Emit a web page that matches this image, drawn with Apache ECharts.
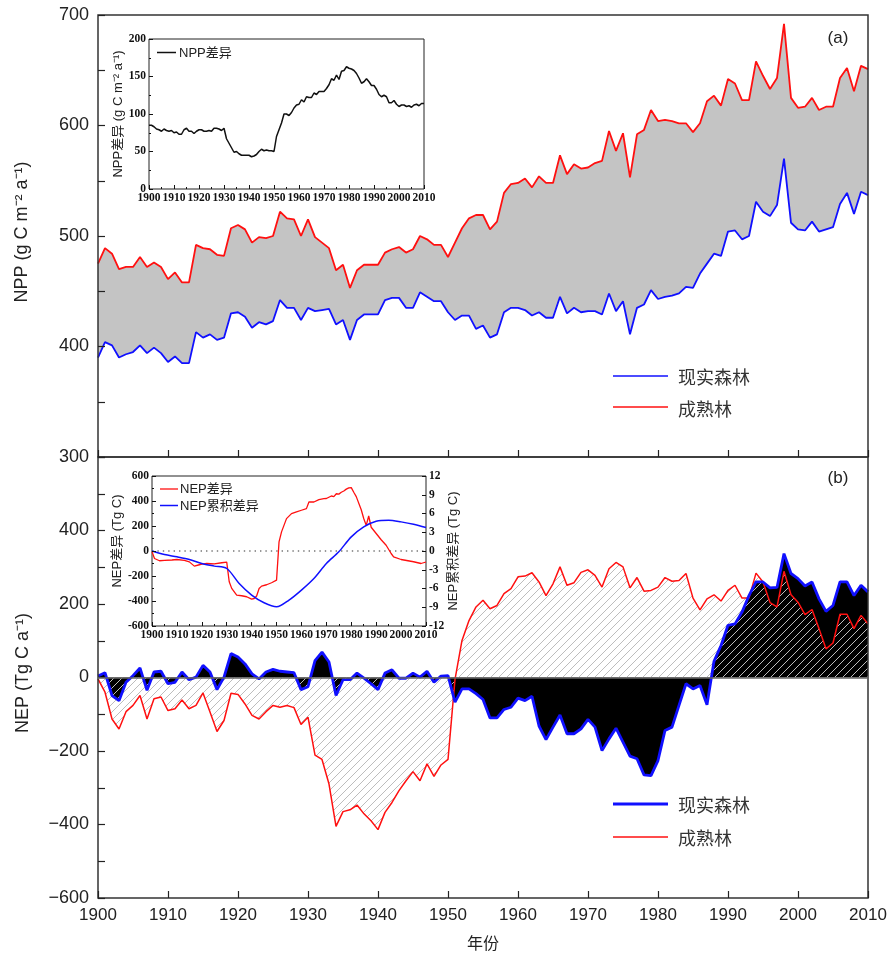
<!DOCTYPE html>
<html><head><meta charset="utf-8">
<script src="https://cdn.jsdelivr.net/npm/echarts@6/dist/echarts.min.js"></script>
<style>html,body{margin:0;padding:0;background:#fff}#c{width:892px;height:956px}</style>
</head><body><div id="c"></div>
<script>
// ---------- DATA ----------
const years = Array.from({length: 111}, (_, i) => 1900 + i);

// (a) NPP (g C m-2 a-1)
const nppReal = [390,404,401,390,393,395,401,394,399,394,386,391,385,385,413,408,411,406,408,430,
431,427,417,422,420,423,442,435,435,424,435,432,433,434,420,424,406,424,429,429,
429,442,444,444,435,435,449,445,441,441,431,424,428,428,416,419,408,411,431,435,
435,433,428,431,426,426,445,430,435,431,432,432,429,448,432,441,411,435,438,451,
443,445,446,448,454,453,466,475,484,482,504,505,497,500,531,522,518,528,570,512,
506,505,513,504,506,508,529,539,520,540,537];
const nppMature = [475,489,484,470,472,472,481,472,476,472,461,467,458,458,492,489,488,483,482,507,
510,506,494,499,498,500,522,516,515,500,515,499,494,489,469,474,453,469,474,474,
474,485,488,490,485,488,500,497,492,492,481,494,507,516,519,519,506,513,539,547,
548,552,544,554,548,548,573,556,565,561,562,566,568,595,577,593,553,592,596,614,
604,605,604,602,602,594,602,622,627,618,642,638,623,623,658,645,633,643,692,625,
616,617,625,614,617,617,643,652,631,654,651];
// inset (a) NPP差异
const nppDiff = [85,85,83,80,79,77,80,78,77,78,75,76,73,73,79,81,77,77,74,77,
79,79,77,77,78,77,81,81,80,78,81,67,61,55,49,50,47,45,45,45,
45,43,44,46,50,53,51,52,51,51,50,70,79,88,100,100,98,102,108,112,
113,119,116,123,122,122,128,126,130,130,130,134,139,147,145,152,146,157,158,163,
161,160,158,154,148,141,143,147,143,138,138,133,126,123,125,123,115,115,118,113,
110,112,112,110,111,109,112,113,111,114,114];

// (b) NEP (Tg C a-1)
const nepReal = [4,13,-49,-63,-13,5,26,-35,15,17,-17,-13,15,-6,1,33,15,-33,1,65,
56,37,10,-4,15,22,17,15,13,-33,-25,46,69,42,-49,-6,-6,12,-2,-17,
-33,12,21,-2,-2,12,1,17,-13,4,5,-67,-31,-31,-44,-60,-110,-110,-87,-81,
-56,-63,-51,-132,-169,-135,-102,-153,-153,-140,-114,-135,-199,-167,-138,-176,-214,-221,-265,-267,
-226,-144,-135,-76,-17,-31,-22,-74,44,87,142,146,178,223,260,260,244,245,337,283,
269,249,260,214,180,196,260,260,223,251,233];
const nepMature = [-4,-40,-113,-140,-93,-76,-49,-113,-58,-53,-90,-85,-61,-85,-76,-42,-94,-147,-117,-43,
-46,-72,-103,-113,-93,-76,-81,-76,-82,-128,-108,-211,-223,-290,-405,-365,-360,-347,-371,-390,
-414,-367,-340,-308,-281,-256,-281,-235,-269,-238,-223,-5,101,155,192,210,187,196,228,242,
274,276,285,260,223,255,301,251,258,286,293,278,246,296,313,301,244,272,235,237,
246,272,262,264,283,216,184,214,225,208,237,251,216,216,284,260,204,192,289,225,
205,171,185,133,78,94,172,172,133,169,146];

// inset (b) NEP差异 (Tg C), read at these years
const nepDiffYears = [1900,1901,1903,1905,1908,1910,1913,1915,1917,1919,1920,1922,1925,1928,1930,1931,1932,1934,1936,1938,1940,1941,1942,1943,1944,1946,1948,1950,1951,1952,1954,1956,1958,1960,1962,1963,1965,1967,1969,1970,1972,1973,1974,1975,1976,1977,1978,1979,1980,1981,1982,1984,1985,1986,1987,1988,1990,1992,1994,1996,1997,2000,2005,2008,2010];
const nepDiffVals  = [-5,-60,-78,-75,-72,-68,-75,-87,-121,-110,-105,-100,-103,-94,-89,-246,-299,-353,-358,-366,-385,-380,-360,-300,-281,-270,-254,-233,73,153,259,299,313,326,339,392,392,411,419,420,440,435,458,455,470,480,495,505,507,470,435,330,260,205,280,190,140,90,46,-20,-47,-68,-86,-100,-88];
// inset (b) NEP累积差异 (right axis)
const cumYears = [1900,1905,1910,1915,1920,1925,1930,1935,1940,1945,1950,1955,1960,1965,1970,1975,1980,1985,1990,1995,2000,2005,2010];
const cumVals  = [0,-0.56,-0.93,-1.36,-2.0,-2.42,-2.8,-5.2,-7.05,-8.28,-8.92,-7.85,-6.25,-4.4,-2.0,-0.13,2.26,3.86,4.76,4.92,4.66,4.28,3.75];
// inset (b) zero reference line
const zeroRef = [[1900, 0], [2010, 0]];

// ---------- CHART ----------
const pairs = arr => arr.map((v, i) => [years[i], v]);
const zip = (xs, ys) => xs.map((x, i) => [x, ys[i]]);
const SANS = "'Liberation Sans','Noto Sans CJK SC',sans-serif";
const CJK = "'Noto Sans CJK SC','Liberation Sans',sans-serif";
const SERIF = "'Liberation Serif','DejaVu Serif',serif";

function hatch(color, size) {
  const c = document.createElement('canvas');
  c.width = size; c.height = size;
  const g = c.getContext('2d');
  g.strokeStyle = color; g.lineWidth = 1;
  g.beginPath();
  g.moveTo(0, size); g.lineTo(size, 0);
  g.moveTo(-1, 1); g.lineTo(1, -1);
  g.moveTo(size - 1, size + 1); g.lineTo(size + 1, size - 1);
  g.stroke();
  return c;
}
const hatchCanvas = hatch('#bdbdbd', 8);

const chart = echarts.init(document.getElementById('c'), null, {renderer: 'canvas'});

const mainX = (gi, showLabel) => ({
  type: 'value', gridIndex: gi, min: 1900, max: 2010, interval: 10, z: 3,
  axisLine: {show: false, onZero: false},
  axisTick: {show: true, inside: true, length: 7, lineStyle: {color: '#222', width: 1.2}},
  axisLabel: {show: showLabel, fontSize: 17, color: '#222', fontFamily: SANS, margin: 9, formatter: v => String(v)},
  splitLine: {show: false}
});
const insetX = (gi) => ({
  type: 'value', gridIndex: gi, min: 1900, max: 2010, interval: 10, z: 12,
  axisLine: {show: false, onZero: false},
  axisTick: {show: true, inside: true, length: 4, lineStyle: {color: '#111'}},
  minorTick: {show: true, splitNumber: 2, length: 2, lineStyle: {color: '#111'}},
  axisLabel: {fontSize: 11.5, fontWeight: 'bold', color: '#111', fontFamily: SERIF, margin: 3, formatter: v => String(v)},
  splitLine: {show: false}
});

const option = {
  animation: false,
  backgroundColor: '#fff',
  grid: [
    {left: 98, top: 15, width: 770, height: 442, show: true, backgroundColor: 'transparent', borderColor: '#333', borderWidth: 1.5, z: 3},
    {left: 98, top: 457, width: 770, height: 441, show: true, backgroundColor: 'transparent', borderColor: '#333', borderWidth: 1.5, z: 3},
    {left: 149, top: 39, width: 275, height: 150, show: true, backgroundColor: '#fff', borderColor: '#222', borderWidth: 1, z: 10},
    {left: 152, top: 476, width: 274, height: 150, show: true, backgroundColor: '#fff', borderColor: '#222', borderWidth: 1, z: 10}
  ],
  xAxis: [mainX(0, false), mainX(1, true), insetX(2), insetX(3)],
  yAxis: [
    {type: 'value', gridIndex: 0, min: 300, max: 700, interval: 50, z: 3,
     axisLine: {show: false, onZero: false}, splitLine: {show: false},
     axisTick: {show: true, inside: true, length: 7, lineStyle: {color: '#222', width: 1.2}},
     axisLabel: {fontSize: 18, color: '#222', fontFamily: SANS, margin: 9, formatter: v => (v % 100 === 0 ? String(v) : '')}},
    {type: 'value', gridIndex: 1, min: -600, max: 600, interval: 100, z: 3,
     axisLine: {show: false, onZero: false}, splitLine: {show: false},
     axisTick: {show: true, inside: true, length: 7, lineStyle: {color: '#222', width: 1.2}},
     axisLabel: {fontSize: 18, color: '#222', fontFamily: SANS, margin: 9,
       formatter: v => (v % 200 === 0 && v !== 600 ? String(v).replace('-', '\u2212') : '')}},
    {type: 'value', gridIndex: 2, min: 0, max: 200, interval: 50, z: 12,
     axisLine: {show: false, onZero: false}, splitLine: {show: false},
     axisTick: {show: true, inside: true, length: 4, lineStyle: {color: '#111'}},
     minorTick: {show: true, splitNumber: 2, length: 2, lineStyle: {color: '#111'}},
     axisLabel: {fontSize: 11.5, fontWeight: 'bold', color: '#111', fontFamily: SERIF, margin: 3}},
    {type: 'value', gridIndex: 3, min: -600, max: 600, interval: 200, z: 12,
     axisLine: {show: false, onZero: false}, splitLine: {show: false},
     axisTick: {show: true, inside: true, length: 4, lineStyle: {color: '#111'}},
     minorTick: {show: true, splitNumber: 2, length: 2, lineStyle: {color: '#111'}},
     axisLabel: {fontSize: 11.5, fontWeight: 'bold', color: '#111', fontFamily: SERIF, margin: 3}},
    {type: 'value', gridIndex: 3, position: 'right', min: -12, max: 12, interval: 3, z: 12,
     axisLine: {show: false, onZero: false}, splitLine: {show: false},
     axisTick: {show: true, inside: true, length: 4, lineStyle: {color: '#111'}},
     axisLabel: {fontSize: 11.5, fontWeight: 'bold', color: '#111', fontFamily: SERIF, margin: 3}}
  ],
  series: [
    // (a) main
    {name: '成熟林', type: 'line', xAxisIndex: 0, yAxisIndex: 0, data: pairs(nppMature), symbol: 'none', z: 2,
     lineStyle: {color: '#ff1010', width: 1.8}, areaStyle: {color: '#c4c4c4', opacity: 1, origin: 'start'}},
    {name: '现实森林', type: 'line', xAxisIndex: 0, yAxisIndex: 0, data: pairs(nppReal), symbol: 'none', z: 2,
     lineStyle: {color: '#1010ff', width: 1.8}, areaStyle: {color: '#ffffff', opacity: 1, origin: 'start'}},
    // (b) main
    {name: '现实森林区', type: 'line', xAxisIndex: 1, yAxisIndex: 1, data: pairs(nepReal), symbol: 'none', z: 2,
     lineStyle: {opacity: 0}, areaStyle: {color: '#000', opacity: 1}},
    {name: '成熟林', type: 'line', xAxisIndex: 1, yAxisIndex: 1, data: pairs(nepMature), symbol: 'none', z: 2,
     lineStyle: {color: '#ff1010', width: 1.5}, areaStyle: {color: {image: hatchCanvas, repeat: 'repeat'}, opacity: 1}},
    {name: '现实森林', type: 'line', xAxisIndex: 1, yAxisIndex: 1, data: pairs(nepReal), symbol: 'none', z: 2,
     lineStyle: {color: '#1010ff', width: 2.8},
     markLine: {silent: true, symbol: 'none', label: {show: false}, lineStyle: {color: '#666', width: 1.5, type: 'solid'}, data: [{yAxis: 0}]}},
    // inset (a)
    {name: 'NPP差异', type: 'line', xAxisIndex: 2, yAxisIndex: 2, data: pairs(nppDiff), symbol: 'none', z: 11,
     lineStyle: {color: '#111', width: 1.5}},
    // inset (b)
    {name: 'zero', type: 'line', xAxisIndex: 3, yAxisIndex: 3, data: zeroRef, symbol: 'none', z: 11, silent: true,
     lineStyle: {color: '#777', width: 1.4, type: [1.4, 4]}},
    {name: 'NEP差异', type: 'line', xAxisIndex: 3, yAxisIndex: 3, data: zip(nepDiffYears, nepDiffVals), symbol: 'none', z: 11,
     lineStyle: {color: '#ff1010', width: 1.3}},
    {name: 'NEP累积差异', type: 'line', xAxisIndex: 3, yAxisIndex: 4, data: zip(cumYears, cumVals), symbol: 'none', z: 11, smooth: 0.3,
     lineStyle: {color: '#1010ff', width: 1.5}}
  ],
  graphic: [
    {type: 'text', x: 838, y: 38, z: 100, style: {text: '(a)', font: '17px ' + SANS, fill: '#222', textAlign: 'center', textVerticalAlign: 'middle'}},
    {type: 'text', x: 838, y: 478, z: 100, style: {text: '(b)', font: '17px ' + SANS, fill: '#222', textAlign: 'center', textVerticalAlign: 'middle'}},
    {type: 'text', x: 22, y: 232, rotation: Math.PI / 2, z: 100, style: {text: 'NPP (g C m\u207B\u00B2 a\u207B\u00B9)', font: '18px ' + SANS, fill: '#222', textAlign: 'center', textVerticalAlign: 'middle'}},
    {type: 'text', x: 23, y: 673, rotation: Math.PI / 2, z: 100, style: {text: 'NEP (Tg C a\u207B\u00B9)', font: '18px ' + SANS, fill: '#222', textAlign: 'center', textVerticalAlign: 'middle'}},
    {type: 'text', x: 483, y: 943, z: 100, style: {text: '年份', font: '16px ' + CJK, fill: '#222', textAlign: 'center', textVerticalAlign: 'middle'}},
    // legend (a)
    {type: 'line', z: 100, shape: {x1: 613, y1: 376, x2: 668, y2: 376}, style: {stroke: '#1010ff', lineWidth: 1.5}},
    {type: 'text', x: 678, y: 377, z: 100, style: {text: '现实森林', font: '18px ' + CJK, fill: '#333', textVerticalAlign: 'middle'}},
    {type: 'line', z: 100, shape: {x1: 613, y1: 407, x2: 668, y2: 407}, style: {stroke: '#ff1010', lineWidth: 1.5}},
    {type: 'text', x: 678, y: 409, z: 100, style: {text: '成熟林', font: '18px ' + CJK, fill: '#333', textVerticalAlign: 'middle'}},
    // legend (b)
    {type: 'line', z: 100, shape: {x1: 613, y1: 804, x2: 668, y2: 804}, style: {stroke: '#1010ff', lineWidth: 3}},
    {type: 'text', x: 678, y: 805, z: 100, style: {text: '现实森林', font: '18px ' + CJK, fill: '#333', textVerticalAlign: 'middle'}},
    {type: 'line', z: 100, shape: {x1: 613, y1: 837, x2: 668, y2: 837}, style: {stroke: '#ff1010', lineWidth: 1.5}},
    {type: 'text', x: 678, y: 838, z: 100, style: {text: '成熟林', font: '18px ' + CJK, fill: '#333', textVerticalAlign: 'middle'}},
    // inset (a) texts
    {type: 'text', x: 118, y: 114, rotation: Math.PI / 2, z: 100, style: {text: 'NPP差异 (g C m\u207B\u00B2 a\u207B\u00B9)', font: '13px ' + SANS, fill: '#222', textAlign: 'center', textVerticalAlign: 'middle'}},
    {type: 'line', z: 100, shape: {x1: 157, y1: 52.5, x2: 176, y2: 52.5}, style: {stroke: '#111', lineWidth: 1.5}},
    {type: 'text', x: 179, y: 53, z: 100, style: {text: 'NPP差异', font: '13px ' + SANS, fill: '#222', textVerticalAlign: 'middle'}},
    // inset (b) texts
    {type: 'text', x: 117, y: 541, rotation: Math.PI / 2, z: 100, style: {text: 'NEP差异 (Tg C)', font: '13px ' + SANS, fill: '#222', textAlign: 'center', textVerticalAlign: 'middle'}},
    {type: 'text', x: 453, y: 551, rotation: Math.PI / 2, z: 100, style: {text: 'NEP累积差异 (Tg C)', font: '13px ' + SANS, fill: '#222', textAlign: 'center', textVerticalAlign: 'middle'}},
    {type: 'line', z: 100, shape: {x1: 160, y1: 489, x2: 178, y2: 489}, style: {stroke: '#ff1010', lineWidth: 1.3}},
    {type: 'text', x: 180, y: 489, z: 100, style: {text: 'NEP差异', font: '13px ' + SANS, fill: '#222', textVerticalAlign: 'middle'}},
    {type: 'line', z: 100, shape: {x1: 160, y1: 505.5, x2: 178, y2: 505.5}, style: {stroke: '#1010ff', lineWidth: 1.5}},
    {type: 'text', x: 180, y: 506, z: 100, style: {text: 'NEP累积差异', font: '13px ' + SANS, fill: '#222', textVerticalAlign: 'middle'}}
  ]
};
chart.setOption(option);
</script>
</body></html>
